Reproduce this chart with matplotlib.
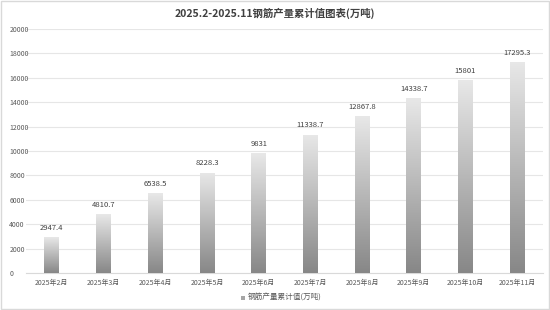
# 2025.2-2025.11 钢筋产量累计值 柱状图
import numpy as np
import matplotlib.pyplot as plt
from matplotlib.colors import LinearSegmentedColormap

plt.rcParams['font.family'] = ['Noto Sans CJK SC', 'DejaVu Sans']
plt.rcParams['axes.unicode_minus'] = False

months = ['2025年2月', '2025年3月', '2025年4月', '2025年5月', '2025年6月',
          '2025年7月', '2025年8月', '2025年9月', '2025年10月', '2025年11月']
values = [2947.4, 4810.7, 6538.5, 8228.3, 9831, 11338.7, 12867.8, 14338.7, 15801, 17295.3]
labels = ['2947.4', '4810.7', '6538.5', '8228.3', '9831', '11338.7', '12867.8', '14338.7', '15801', '17295.3']
series_name = '钢筋产量累计值(万吨)'

fig = plt.figure(figsize=(5.5, 3.1), dpi=100)
fig.patch.set_facecolor('white')
# 外框
fig.add_artist(plt.Rectangle((0.002, 0.003), 0.996, 0.994, transform=fig.transFigure,
                             fill=False, edgecolor='#d9d9d9', linewidth=1))

ax = fig.add_axes([26/550, 1 - 273/310, 517/550, 244/310])
x = np.arange(len(months))
bars = ax.bar(x, values, width=0.285, color='none', edgecolor='none', zorder=3)

# 渐变填充 (上浅下深)
cm = LinearSegmentedColormap.from_list('bar_grey', ['#e8e8e8', '#878787'])
grad = np.linspace(0, 1, 256).reshape(-1, 1)
for b in bars:
    x0, y0 = b.get_x(), b.get_y()
    w, h = b.get_width(), b.get_height()
    im = ax.imshow(grad, cmap=cm, vmin=0, vmax=1, aspect='auto',
                   extent=[x0, x0 + w, y0, y0 + h], origin='upper', zorder=3)
    im.set_clip_path(b)

for xi, v, t in zip(x, values, labels):
    ax.text(xi, v + 450, t, ha='center', va='bottom', fontsize=5.5, color='#404040')

ax.set_xlim(-0.5, len(months) - 0.5)
ax.set_ylim(0, 20000)
ax.set_yticks(np.arange(0, 20001, 2000))
ax.set_xticks(x)
ax.set_xticklabels(months)
ax.tick_params(axis='both', length=0, labelsize=5, colors='#595959', pad=4)
ax.tick_params(axis='y', pad=12)
for lab in ax.get_yticklabels():
    lab.set_horizontalalignment('left')
ax.grid(axis='y', color='#e6e6e6', linewidth=0.8, zorder=0)
for s in ['top', 'right', 'left']:
    ax.spines[s].set_visible(False)
ax.spines['bottom'].set_color('#d9d9d9')

fig.text(0.5, 1 - 13/310, '2025.2-2025.11钢筋产量累计值图表(万吨)', ha='center', va='center',
         fontsize=7.5, fontweight='bold', color='#404040')

# 图例
fig.add_artist(plt.Rectangle((241/550, 1 - 300/310), 4/550, 4/310, transform=fig.transFigure,
                             facecolor='#a6a6a6', edgecolor='none'))
fig.text(248/550, 1 - 298/310, series_name, ha='left', va='center', fontsize=5.5, color='#595959')

plt.savefig('out.png', dpi=100)
